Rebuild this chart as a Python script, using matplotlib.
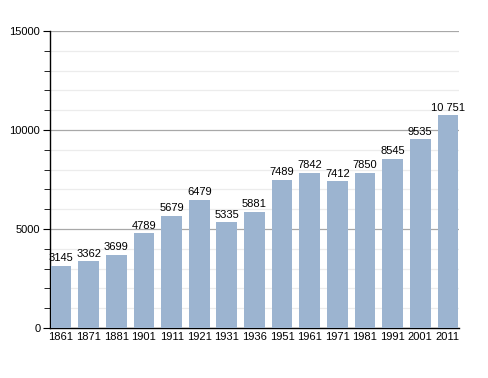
import matplotlib
matplotlib.use("Agg")
import matplotlib.pyplot as plt
from matplotlib.ticker import MultipleLocator

plt.rcParams['font.family'] = ['Liberation Sans', 'DejaVu Sans']

years = ["1861", "1871", "1881", "1901", "1911", "1921", "1931", "1936",
         "1951", "1961", "1971", "1981", "1991", "2001", "2011"]
population = [3145, 3362, 3699, 4789, 5679, 6479, 5335, 5881,
              7489, 7842, 7412, 7850, 8545, 9535, 10751]
labels = ["3145", "3362", "3699", "4789", "5679", "6479", "5335", "5881",
          "7489", "7842", "7412", "7850", "8545", "9535", "10 751"]

fig = plt.figure(figsize=(4.88, 3.78), dpi=100)
ax = fig.add_axes([0.1025, 0.1323, 0.838, 0.7857])

x = list(range(len(years)))
ax.bar(x, population, width=0.75, color="#9cb4d0", zorder=3)
for xi, v, lab in zip(x, population, labels):
    ax.text(xi, v + 120, lab, ha="center", va="bottom", fontsize=8, zorder=4)

ax.set_xlim(-0.4, 14.4)
ax.set_ylim(0, 15000)
ax.yaxis.set_major_locator(MultipleLocator(5000))
ax.yaxis.set_minor_locator(MultipleLocator(1000))
ax.grid(which="major", axis="y", color="#a8a8a8", linewidth=0.9, zorder=1)
ax.grid(which="minor", axis="y", color="#ececec", linewidth=0.9, zorder=0)
ax.set_xticks(x)
ax.set_xticklabels(years, fontsize=8)
ax.tick_params(axis="x", length=0, pad=3)
ax.tick_params(axis="y", which="major", length=5, labelsize=8, pad=2)
ax.tick_params(axis="y", which="minor", length=4)
for s in ["top", "right"]:
    ax.spines[s].set_visible(False)
ax.spines["left"].set_linewidth(1)
ax.spines["bottom"].set_linewidth(1)

fig.savefig("out.png", dpi=100)
